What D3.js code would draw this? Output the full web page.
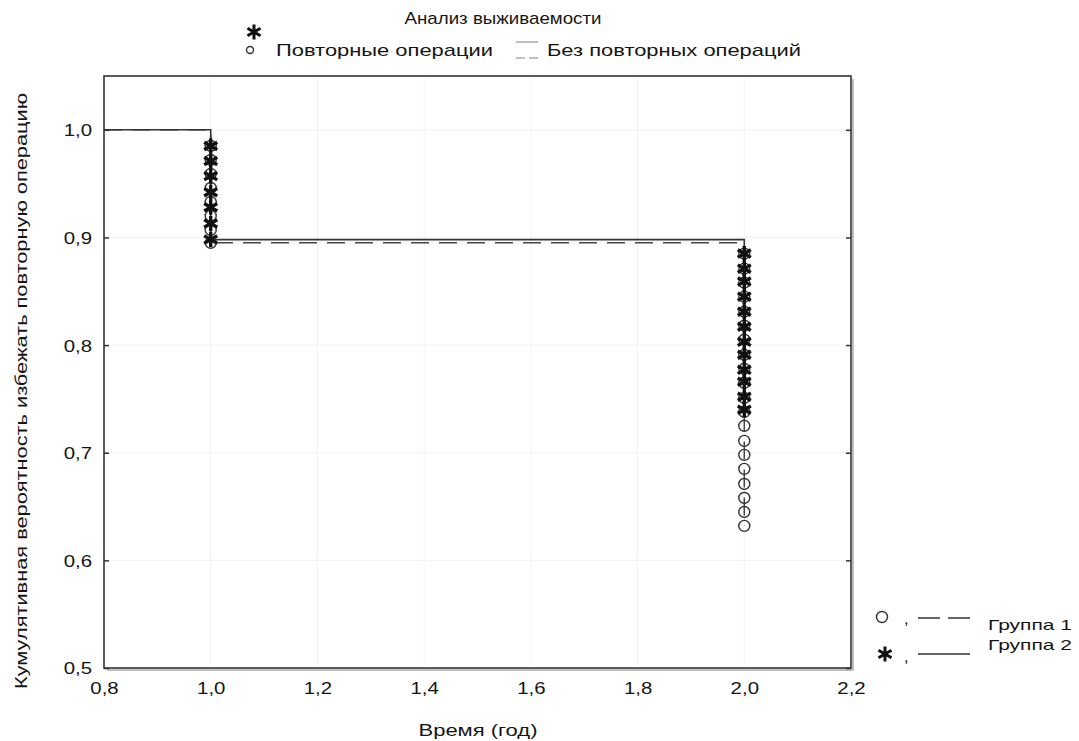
<!DOCTYPE html>
<html><head><meta charset="utf-8">
<script src="https://cdnjs.cloudflare.com/ajax/libs/d3/7.8.5/d3.min.js"></script>
<style>
body{margin:0;background:#fff;}
text{font-family:"Liberation Sans",Arial,sans-serif;fill:#151515;}
</style></head><body>
<svg id="c" width="1079" height="741"></svg>
<script>
// ---- data ----
const xTicks = [0.8, 1.0, 1.2, 1.4, 1.6, 1.8, 2.0, 2.2];
const yTicks = [0.5, 0.6, 0.7, 0.8, 0.9, 1.0];
const xTickLabels = ["0,8","1,0","1,2","1,4","1,6","1,8","2,0","2,2"];
const yTickLabels = ["0,5","0,6","0,7","0,8","0,9","1,0"];
const stepTimes = [0.8, 1.0, 2.0];
const group1Surv = [1.0, 0.895, 0.632];   // dashed, circles
const group2Surv = [1.0, 0.898, 0.740];   // solid, stars
const group1Marks1 = [0.985, 0.972, 0.959, 0.946, 0.933, 0.920, 0.907, 0.895];
const group2Marks1 = [0.985, 0.971, 0.957, 0.942, 0.928, 0.913, 0.898];
const group1Marks2 = [0.885, 0.871, 0.858, 0.845, 0.831, 0.818, 0.805, 0.791, 0.778, 0.765,
                      0.751, 0.738, 0.725, 0.711, 0.698, 0.685, 0.671, 0.658, 0.645, 0.632];
const group2Marks2 = [0.885, 0.871, 0.859, 0.845, 0.831, 0.817, 0.803, 0.791, 0.777, 0.766, 0.752, 0.740];
const title = "Анализ выживаемости";
const legendTop = ["Повторные операции", "Без повторных операций"];
const legendGroups = ["Группа 1", "Группа 2"];
const xTitle = "Время (год)";
const yTitle = "Кумулятивная вероятность избежать повторную операцию";

// ---- chart ----
const svg = d3.select("#c");
const L = 104, R = 851, T = 76, B = 668;
const x = d3.scaleLinear([0.8, 2.2], [L, R]);
const y = d3.scaleLinear([0.5, 1.05], [B, T]);
const SX = 1.2;

function stretch(sel, len) {
  sel.each(function(){
    const w = this.getComputedTextLength();
    d3.select(this).attr("textLength", len || w * SX).attr("lengthAdjust", "spacingAndGlyphs");
  });
}

// grid
svg.append("g").selectAll("line").data(yTicks.slice(1)).join("line")
  .attr("x1", L).attr("x2", R).attr("y1", d => y(d)).attr("y2", d => y(d))
  .attr("stroke", "#f3f3f3").attr("stroke-width", 1);
svg.append("g").selectAll("line").data(xTicks.slice(1, -1)).join("line")
  .attr("y1", T).attr("y2", B).attr("x1", d => x(d)).attr("x2", d => x(d))
  .attr("stroke", "#f4f4f4").attr("stroke-width", 1);

// frame shadow + frame
svg.append("path").attr("d", `M${R+2},${T+3}V${B+2}H${L+3}`)
  .attr("fill", "none").attr("stroke", "#aaa").attr("stroke-width", 1.5);
svg.append("rect").attr("x", L).attr("y", T).attr("width", R - L).attr("height", B - T)
  .attr("fill", "none").attr("stroke", "#333").attr("stroke-width", 1.6);

// axes (inside ticks)
const gy = svg.append("g").attr("transform", `translate(${L},0)`)
  .call(d3.axisLeft(y).tickValues(yTicks).tickSize(-5).tickPadding(12)
        .tickFormat((d, i) => yTickLabels[i]));
const gyr = svg.append("g").attr("transform", `translate(${R},0)`)
  .call(d3.axisRight(y).tickValues(yTicks).tickSize(-5).tickFormat(""));
const gx = svg.append("g").attr("transform", `translate(0,${B})`)
  .call(d3.axisBottom(x).tickValues(xTicks).tickSize(0).tickPadding(14)
        .tickFormat((d, i) => xTickLabels[i]));
[gy, gyr, gx].forEach(g => {
  g.select(".domain").remove();
  g.selectAll(".tick line").attr("stroke", "#333").attr("stroke-width", 1.5);
  g.selectAll("text").attr("font-size", 17).attr("fill", "#151515")
    .style("font-family", '"Liberation Sans", Arial, sans-serif');
});
gy.selectAll("text").attr("dy", "0.35em");
gx.selectAll("text").attr("dy", "0.71em");
stretch(gy.selectAll("text"));
stretch(gx.selectAll("text"));

// survival step lines
const line = d3.line().x(d => x(d[0])).y(d => y(d[1])).curve(d3.curveStepAfter);
svg.append("path").datum(stepTimes.map((t, i) => [t, group1Surv[i]]))
  .attr("d", line).attr("fill", "none").attr("stroke", "#444").attr("stroke-width", 1.5)
  .attr("stroke-dasharray", "18,10");
svg.append("path").datum(stepTimes.map((t, i) => [t, group2Surv[i]]))
  .attr("d", line).attr("fill", "none").attr("stroke", "#333").attr("stroke-width", 1.6);

// markers
const circ = [...group1Marks1.map(v => [1.0, v]), ...group1Marks2.map(v => [2.0, v])];
const star = [...group2Marks1.map(v => [1.0, v]), ...group2Marks2.map(v => [2.0, v])];
svg.append("g").selectAll("circle").data(circ).join("circle")
  .attr("cx", d => x(d[0])).attr("cy", d => y(d[1])).attr("r", 5.5)
  .attr("fill", "none").attr("stroke", "#333").attr("stroke-width", 1.4);
const starSym = d3.symbol().type(d3.symbolAsterisk).size(160);
svg.append("g").selectAll("path").data(star).join("path")
  .attr("transform", d => `translate(${x(d[0])},${y(d[1])})`)
  .attr("d", starSym).attr("fill", "none").attr("stroke", "#111").attr("stroke-width", 3.4);

// title and top legend
const t1 = svg.append("text").attr("x", 503).attr("y", 24).attr("text-anchor", "middle")
  .attr("font-size", 17).text(title);
stretch(t1, 197);
svg.append("path").attr("transform", "translate(254,32)").attr("d", starSym)
  .attr("fill", "none").attr("stroke", "#111").attr("stroke-width", 3);
svg.append("circle").attr("cx", 250).attr("cy", 50).attr("r", 3.5)
  .attr("fill", "none").attr("stroke", "#333").attr("stroke-width", 1.4);
const t2 = svg.append("text").attr("x", 276).attr("y", 56).attr("font-size", 17).text(legendTop[0]);
stretch(t2, 217);
svg.append("line").attr("x1", 516).attr("x2", 538).attr("y1", 42).attr("y2", 42)
  .attr("stroke", "#aaa").attr("stroke-width", 1.5);
svg.append("line").attr("x1", 516).attr("x2", 538).attr("y1", 58).attr("y2", 58)
  .attr("stroke", "#aaa").attr("stroke-width", 1.5).attr("stroke-dasharray", "9,4");
const t3 = svg.append("text").attr("x", 547).attr("y", 56).attr("font-size", 17).text(legendTop[1]);
stretch(t3, 254);

// axis titles
const xt = svg.append("text").attr("x", 478).attr("y", 736).attr("text-anchor", "middle")
  .attr("font-size", 16).text(xTitle);
stretch(xt, 119);
const yt = svg.append("text").attr("transform", "translate(27,391) rotate(-90)")
  .attr("text-anchor", "middle").attr("font-size", 16).text(yTitle);
stretch(yt, 596);

// group legend
const lg = svg.append("g");
lg.append("circle").attr("cx", 882).attr("cy", 617).attr("r", 5.5)
  .attr("fill", "none").attr("stroke", "#333").attr("stroke-width", 1.4);
lg.append("path").attr("transform", "translate(885,654)").attr("d", starSym)
  .attr("fill", "none").attr("stroke", "#111").attr("stroke-width", 3);
lg.append("text").attr("x", 904).attr("y", 624).attr("font-size", 16).text(",");
lg.append("text").attr("x", 904).attr("y", 662).attr("font-size", 16).text(",");
lg.append("line").attr("x1", 918).attr("x2", 970).attr("y1", 618).attr("y2", 618)
  .attr("stroke", "#333").attr("stroke-width", 1.6).attr("stroke-dasharray", "22,8");
lg.append("line").attr("x1", 918).attr("x2", 970).attr("y1", 654).attr("y2", 654)
  .attr("stroke", "#333").attr("stroke-width", 1.6);
const g1 = lg.append("text").attr("x", 988).attr("y", 630).attr("font-size", 15).text(legendGroups[0]);
stretch(g1, 84);
const g2 = lg.append("text").attr("x", 988).attr("y", 650).attr("font-size", 15).text(legendGroups[1]);
stretch(g2, 84);
</script>
</body></html>
